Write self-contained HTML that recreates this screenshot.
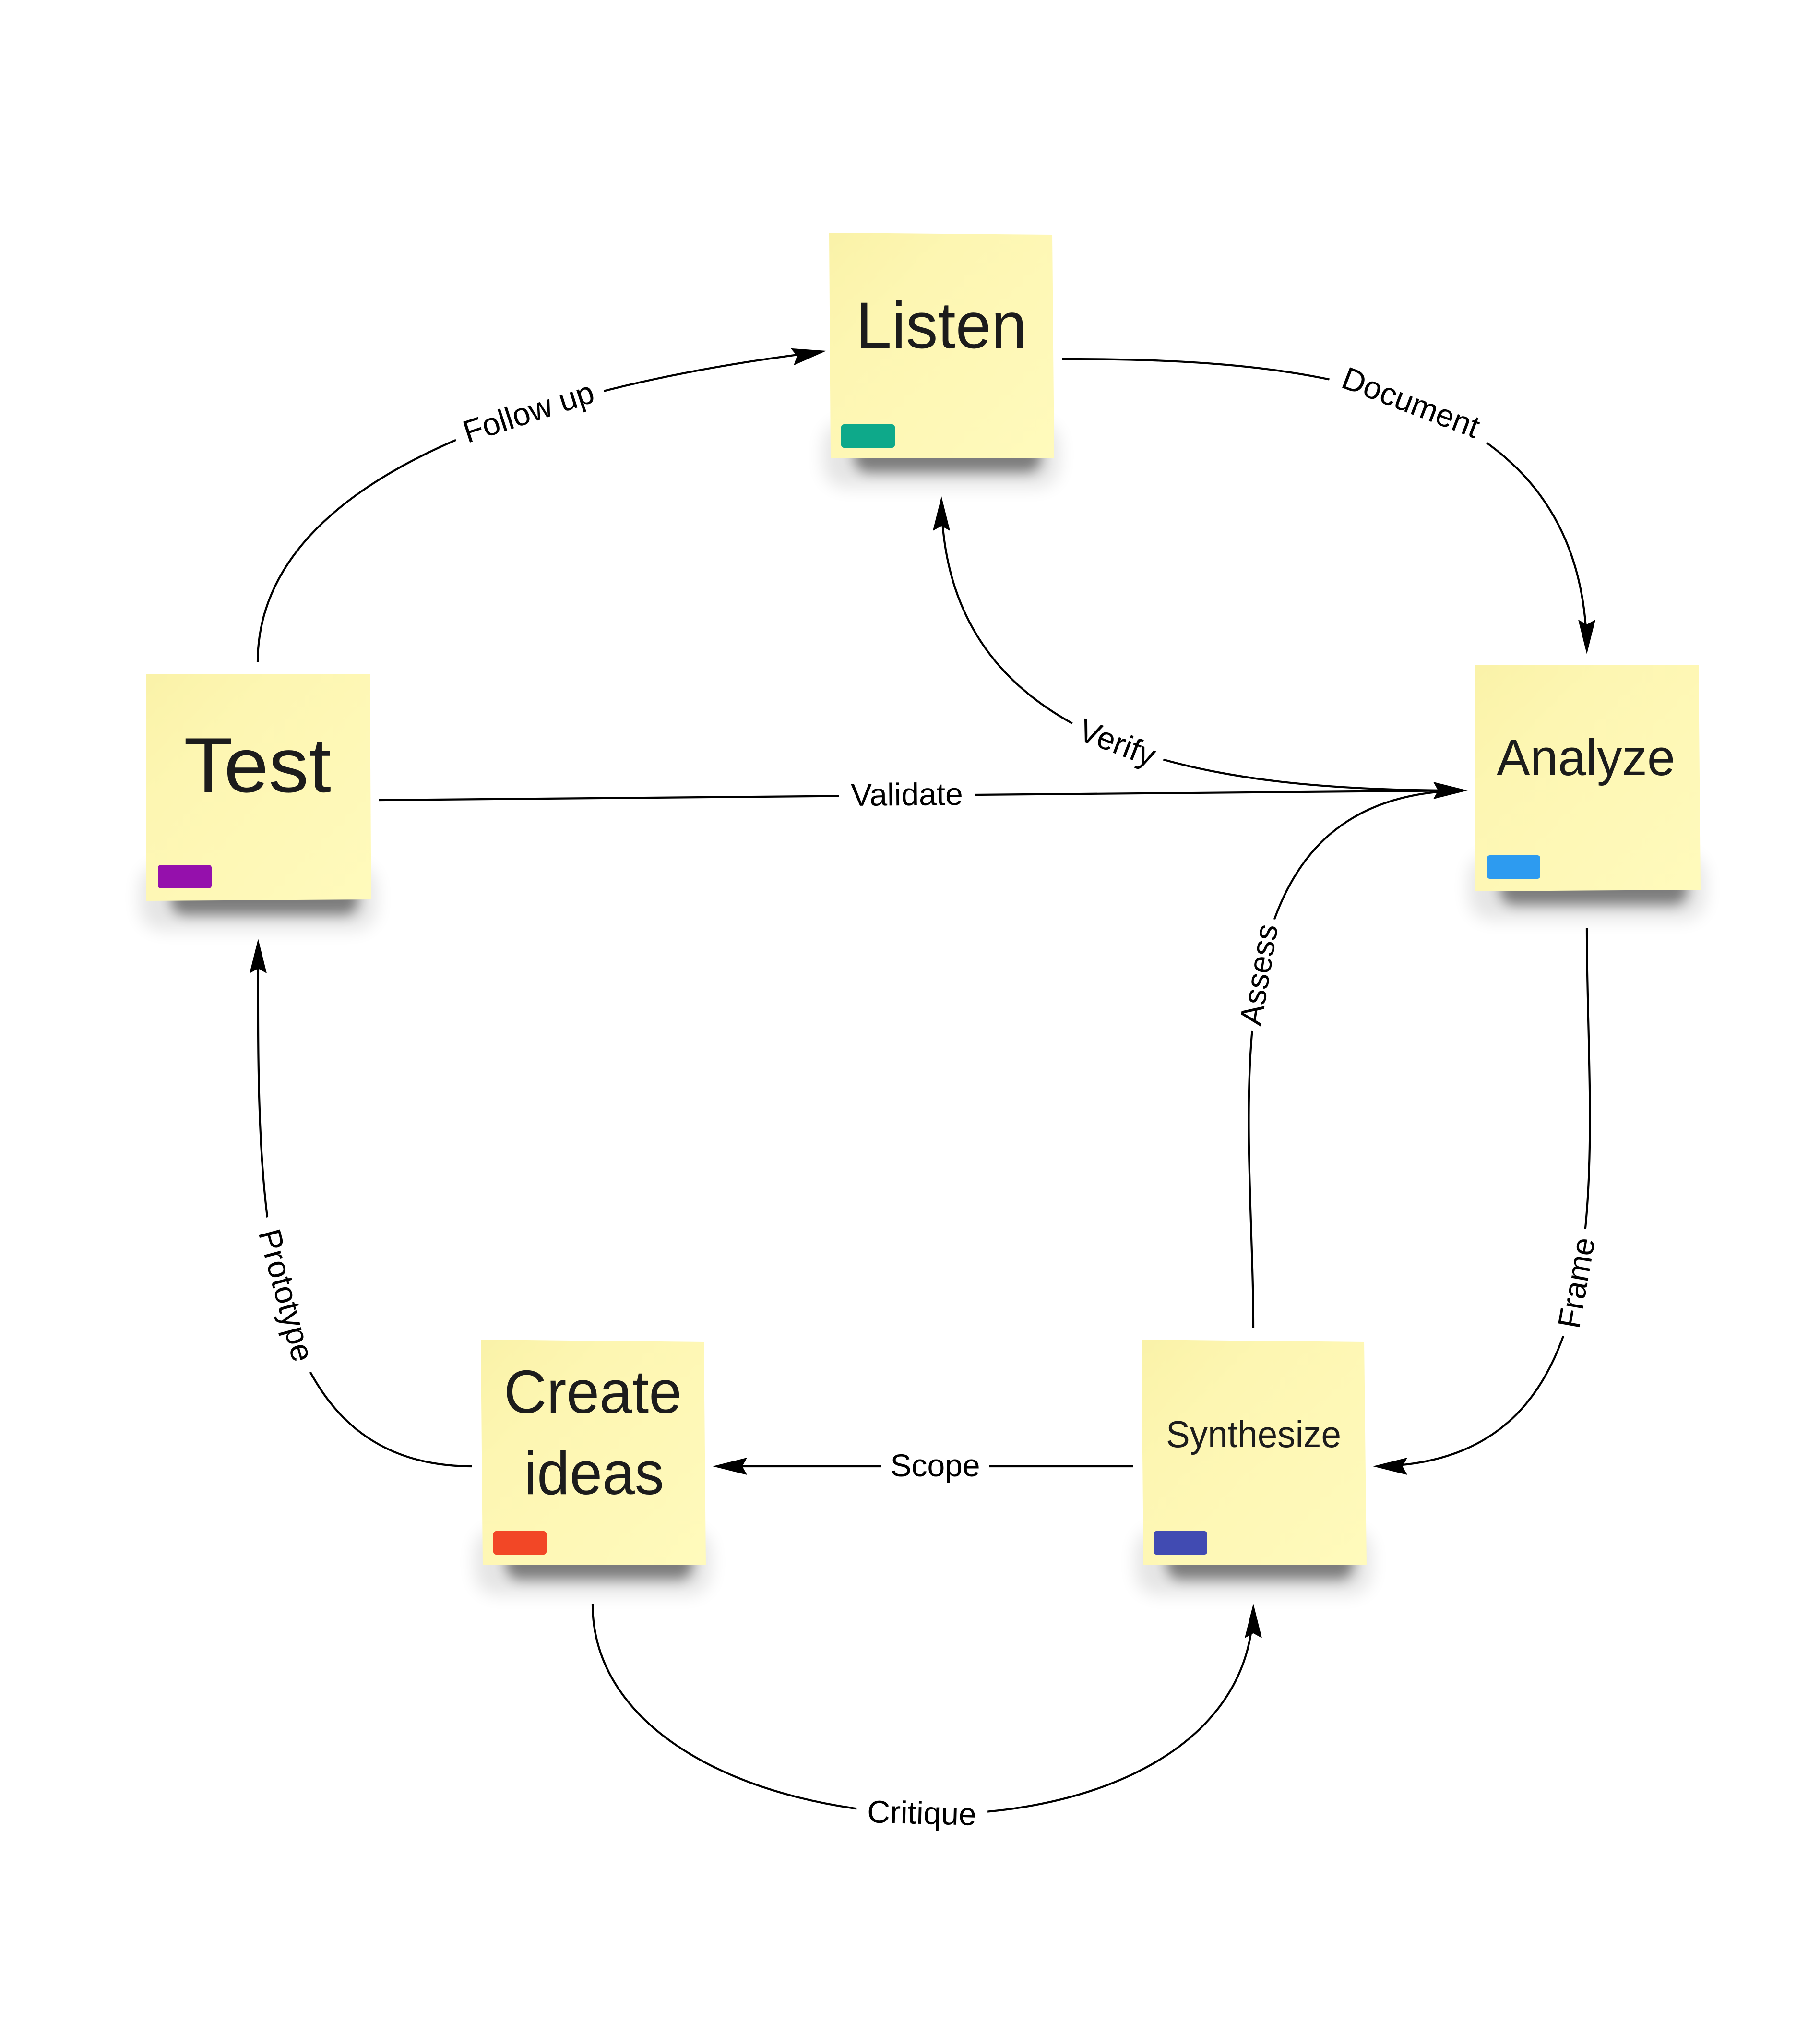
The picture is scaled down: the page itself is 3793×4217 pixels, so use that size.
<!DOCTYPE html>
<html>
<head>
<meta charset="utf-8">
<style>
  html, body { margin:0; padding:0; background:#ffffff; }
  body { width:3793px; height:4217px; overflow:hidden; }
  svg { display:block; }
  .lbl { font-family:"Liberation Sans", "DejaVu Sans", sans-serif; font-size:66px; fill:#000; }
  .stk { font-family:"Liberation Sans", "DejaVu Sans", sans-serif; fill:#1c1c1c; }
</style>
</head>
<body>
<svg width="3793" height="4217" viewBox="0 0 3793 4217" xmlns="http://www.w3.org/2000/svg">
  <defs>
    <linearGradient id="yel" x1="0" y1="0" x2="1" y2="1">
      <stop offset="0" stop-color="#FAF2A8"/>
      <stop offset="0.3" stop-color="#FDF6B2"/>
      <stop offset="1" stop-color="#FFFABC"/>
    </linearGradient>
    <filter id="b10" x="-50%" y="-50%" width="200%" height="200%"><feGaussianBlur stdDeviation="13"/></filter>
    <filter id="b16" x="-50%" y="-50%" width="200%" height="200%"><feGaussianBlur stdDeviation="18"/></filter>
  </defs>

  <rect x="0" y="0" width="3793" height="4217" fill="#ffffff"/>

  <!-- Connectors -->
  <g fill="none" stroke="#000" stroke-width="4.2" stroke-linecap="butt">
    <path d="M537,1380 C537,845 1649,744 1722,731" pathLength="1550" stroke-dasharray="1522 4000"/>
    <path d="M2213,748 C2693,748 3307,786 3307,1363" pathLength="1400" stroke-dasharray="1372 4000"/>
    <path d="M3050,1647 C2565,1647 1962,1590 1962,1034" pathLength="1450" stroke-dasharray="1422 4000"/>
    <path d="M790,1667 L2999,1647.5"/>
    <path d="M2612,2766 C2612,2298 2498,1647 3059,1647" pathLength="1350" stroke-dasharray="1322 4000"/>
    <path d="M3307,1934 C3307,2421 3402,3055 2861,3055" pathLength="1380" stroke-dasharray="1352 4000"/>
    <path d="M2361,3055 L1547,3055"/>
    <path d="M984,3055 C518,3055 538,2469 538,1956" pathLength="1350" stroke-dasharray="1322 4000"/>
    <path d="M1235,3342 C1235,3895 2612,3955 2612,3341" pathLength="1950" stroke-dasharray="1922 4000"/>
  </g>

  <!-- Label gaps -->
  <g fill="#ffffff">
    <rect x="-162" y="-28" width="325" height="56" transform="translate(1102,860) rotate(-18)"/>
    <rect x="-176" y="-28" width="353" height="56" transform="translate(2940,840) rotate(21)"/>
    <rect x="-102" y="-28" width="204" height="56" transform="translate(2328,1549) rotate(21)"/>
    <rect x="-141" y="-28" width="282" height="56" transform="translate(1890,1657) rotate(-0.5)"/>
    <rect x="-118" y="-28" width="237" height="56" transform="translate(2625,2031) rotate(-80.5)"/>
    <rect x="-114" y="-28" width="228" height="56" transform="translate(3287,2673) rotate(-80)"/>
    <rect x="-112" y="-28" width="224" height="56" transform="translate(1949,3055)"/>
    <rect x="-167" y="-28" width="335" height="56" transform="translate(595,2699) rotate(75)"/>
    <rect x="-136" y="-28" width="273" height="56" transform="translate(1921,3779) rotate(1.5)"/>
  </g>

  <!-- Labels -->
  <g class="lbl" text-anchor="middle">
    <text x="0" y="21" transform="translate(1102,860) rotate(-18)">Follow up</text>
    <text x="0" y="21" transform="translate(2940,840) rotate(21)">Document</text>
    <text x="0" y="21" transform="translate(2328,1549) rotate(21)">Verify</text>
    <text x="0" y="21" transform="translate(1890,1657) rotate(-0.5)">Validate</text>
    <text x="0" y="21" transform="translate(2625,2031) rotate(-80.5)">Assess</text>
    <text x="0" y="21" transform="translate(3287,2673) rotate(-80)">Frame</text>
    <text x="0" y="21" transform="translate(1949,3055)">Scope</text>
    <text x="0" y="21" transform="translate(595,2699) rotate(75)">Prototype</text>
    <text x="0" y="21" transform="translate(1921,3779) rotate(1.5)">Critique</text>
  </g>

  <!-- Arrowheads -->
  <g fill="#000">
    <polygon points="1722,731 1654.2,761.3 1660.9,741.8 1648,725.8"/>
    <polygon points="3307,1363 3289,1291 3307,1301 3325,1291"/>
    <polygon points="1962,1034 1944,1106 1962,1096 1980,1106"/>
    <polygon points="3059,1647 2987,1629 2997,1647 2987,1665"/>
    <polygon points="2861,3055 2933,3037 2923,3055 2933,3073"/>
    <polygon points="1485,3055 1557,3037 1547,3055 1557,3073"/>
    <polygon points="538,1956 520,2028 538,2018 556,2028"/>
    <polygon points="2612,3341 2594,3413 2612,3403 2630,3413"/>
  </g>

  <!-- Sticky shadows -->
  <g fill="#000">
    <rect x="1716" y="880" width="491" height="135" rx="45" opacity="0.10" filter="url(#b16)"/>
    <rect x="1780" y="922" width="390" height="62" rx="30" opacity="0.45" filter="url(#b10)"/>

    <rect x="292" y="1802" width="492" height="135" rx="45" opacity="0.10" filter="url(#b16)"/>
    <rect x="356" y="1844" width="391" height="62" rx="30" opacity="0.45" filter="url(#b10)"/>

    <rect x="3062" y="1781" width="492" height="135" rx="45" opacity="0.10" filter="url(#b16)"/>
    <rect x="3126" y="1823" width="391" height="62" rx="30" opacity="0.45" filter="url(#b10)"/>

    <rect x="990" y="3187" width="491" height="135" rx="45" opacity="0.10" filter="url(#b16)"/>
    <rect x="1054" y="3229" width="390" height="62" rx="30" opacity="0.45" filter="url(#b10)"/>

    <rect x="2367" y="3187" width="491" height="135" rx="45" opacity="0.10" filter="url(#b16)"/>
    <rect x="2431" y="3229" width="390" height="62" rx="30" opacity="0.45" filter="url(#b10)"/>
  </g>

  <!-- Stickies -->
  <g fill="url(#yel)">
    <polygon points="1728,485 2193,489 2197,955 1731,954"/>
    <polygon points="304,1405 771,1405 773.5,1874 304,1877"/>
    <polygon points="3074,1385 3540,1385 3544,1854 3074,1857"/>
    <polygon points="1002,2791 1467,2796 1471,3261 1006,3261"/>
    <polygon points="2379,2791 2843,2796 2848,3261 2383,3261"/>
  </g>

  <!-- Tags -->
  <rect x="1753" y="884" width="112" height="49" rx="6" fill="#0EA98A"/>
  <rect x="329" y="1802" width="112" height="49" rx="6" fill="#9510AC"/>
  <rect x="3099" y="1782" width="111" height="49" rx="6" fill="#2D9BF0"/>
  <rect x="1028" y="3190" width="111" height="49" rx="6" fill="#F24726"/>
  <rect x="2404" y="3190" width="112" height="49" rx="6" fill="#414BB2"/>

  <!-- Sticky texts -->
  <g class="stk" text-anchor="middle">
    <text x="1962" y="725" font-size="137" textLength="356" lengthAdjust="spacingAndGlyphs">Listen</text>
    <text x="536.5" y="1650" font-size="162" textLength="307" lengthAdjust="spacingAndGlyphs">Test</text>
    <text x="3305" y="1615" font-size="107" textLength="372" lengthAdjust="spacingAndGlyphs">Analyze</text>
    <text x="1235.5" y="2944" font-size="127" textLength="371" lengthAdjust="spacingAndGlyphs">Create</text>
    <text x="1238" y="3113" font-size="127" textLength="292" lengthAdjust="spacingAndGlyphs">ideas</text>
    <text x="2612.5" y="3015" font-size="78" textLength="365" lengthAdjust="spacingAndGlyphs">Synthesize</text>
  </g>
</svg>
</body>
</html>
